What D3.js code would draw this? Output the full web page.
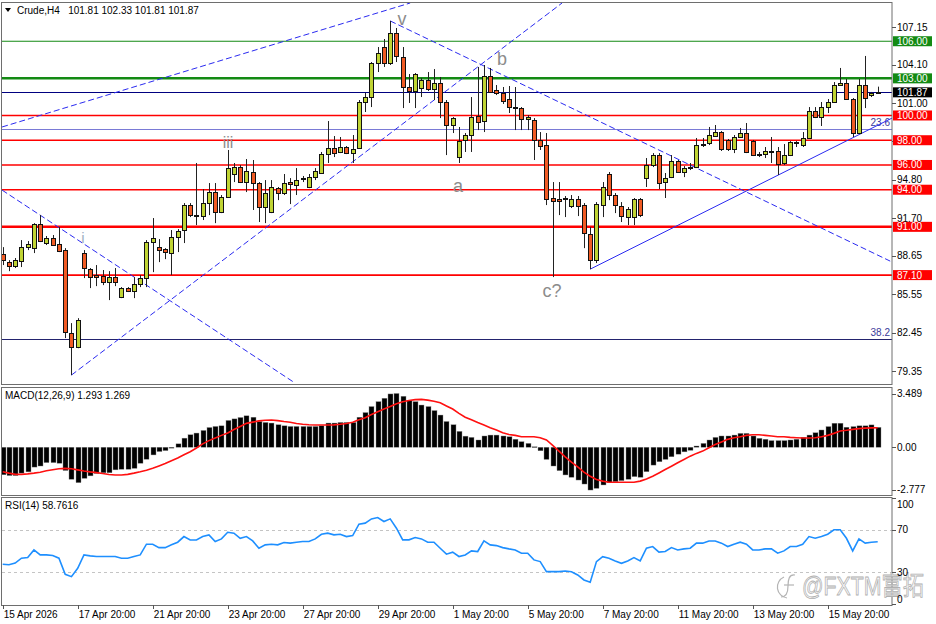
<!DOCTYPE html>
<html lang="en">
<head>
<meta charset="UTF-8" />
<title>Crude,H4</title>
<script src="https://d3js.org/d3.v7.min.js"></script>
<style>
  body { margin: 0; background: #fff; }
  svg { display: block; font-family: "Liberation Sans", Arial, sans-serif; }
  .pre { white-space: pre; }
</style>
</head>
<body>
<svg id="chart" width="936" height="624"></svg>
<script>
// H4 candles (bar 0 = 15 Apr 20:00 ... bar 140 = last)
const opens = [88.80,88.15,87.83,88.23,89.36,89.28,91.22,89.69,90.09,89.61,
  89.12,82.41,81.28,88.88,87.58,87.10,87.02,86.53,86.94,85.32,
  86.05,85.81,86.37,86.86,89.77,89.36,89.20,88.88,90.17,90.74,
  92.76,91.95,91.87,92.92,93.81,92.19,93.41,95.27,95.83,94.62,
  95.43,94.54,92.60,92.19,94.13,93.73,94.62,94.38,94.94,94.22,
  95.02,95.35,96.88,97.37,97.05,97.45,96.96,97.37,101.09,101.49,
  104.24,105.53,104.24,106.66,104.73,102.30,101.98,102.22,102.87,102.14,
  102.62,101.09,99.23,96.64,98.02,98.42,99.96,99.55,103.19,102.06,
  101.82,101.33,100.68,100.60,99.71,99.63,98.02,97.61,93.33,93.25,
  93.25,92.68,93.25,92.76,90.42,88.31,92.76,95.27,93.57,92.68,
  91.79,91.79,93.25,94.94,95.99,96.80,94.62,95.02,96.32,95.43,
  95.75,95.83,97.61,97.77,98.34,98.66,98.02,97.29,98.26,98.58,
  97.93,96.88,96.88,97.13,97.13,96.16,96.80,97.85,97.61,98.18,
  100.36,99.87,100.68,101.09,102.46,102.62,101.33,98.58,102.46,101.65,
  101.81];
const highs = [89.36,88.31,88.48,89.93,89.85,91.30,91.95,90.26,90.34,90.98,
  89.28,83.22,83.62,89.12,87.67,87.91,87.51,87.42,87.67,86.13,
  86.13,86.94,87.10,89.93,91.71,90.01,89.28,90.74,90.82,92.92,
  92.92,96.16,94.05,94.54,94.54,93.57,97.21,96.16,95.99,96.48,
  96.40,94.62,94.78,94.78,94.22,95.27,94.94,95.75,95.11,95.27,
  95.75,97.05,99.55,98.34,98.26,97.53,98.42,101.25,101.82,104.32,
  105.53,106.18,107.64,107.07,105.53,103.35,103.43,103.03,103.51,103.75,
  103.11,101.25,99.87,99.07,98.58,101.49,103.92,104.08,103.84,102.46,
  102.30,102.38,102.30,100.68,100.03,99.79,98.66,98.58,94.62,94.62,
  93.49,93.57,93.49,92.92,90.98,93.00,94.62,95.43,93.73,93.00,
  92.60,93.33,93.33,96.56,96.96,96.96,95.35,96.80,96.40,95.91,
  96.16,98.18,98.18,99.07,99.23,98.74,98.10,98.42,98.99,99.39,
  98.02,97.05,97.45,98.26,97.45,97.69,97.93,97.93,98.66,100.68,
  100.68,101.09,101.33,102.70,103.84,102.95,101.41,102.95,104.81,101.90,
  102.33];
const lows = [87.91,87.42,87.67,87.75,89.12,88.88,89.77,89.53,89.45,88.96,
  82.01,79.02,81.19,86.86,86.05,86.21,86.29,85.08,86.21,85.24,
  85.73,85.24,86.13,86.13,87.34,88.15,88.39,87.10,88.96,89.69,
  91.79,91.14,91.55,91.95,91.30,92.11,93.33,94.62,94.54,93.81,
  92.36,91.39,91.30,92.11,93.16,93.57,92.84,93.57,94.62,94.13,
  94.78,95.27,96.16,96.64,96.96,96.88,96.16,97.29,100.28,100.68,
  103.51,103.92,104.08,104.32,100.60,101.01,100.60,101.49,101.98,101.25,
  99.79,96.80,98.58,96.16,97.05,97.05,98.82,98.66,101.82,101.65,
  100.93,100.20,98.82,98.82,98.82,96.40,97.21,92.76,86.94,91.95,
  91.79,92.52,91.87,89.28,87.58,88.07,91.79,93.16,92.11,91.39,
  91.14,91.14,91.79,94.22,95.83,94.05,93.33,94.94,95.35,95.02,
  95.59,95.75,97.45,97.61,98.26,97.13,97.13,96.96,98.26,96.96,
  96.72,96.64,96.56,96.16,95.19,95.99,96.72,97.45,97.45,98.10,
  99.79,99.15,100.20,101.01,102.46,101.25,98.26,98.50,100.60,101.49,
  101.81];
const closes = [88.31,87.83,88.31,89.36,89.61,91.22,89.85,90.09,89.53,89.04,
  82.49,81.28,83.46,87.67,86.94,86.94,86.53,86.94,86.53,86.05,
  85.81,86.37,86.86,89.77,90.09,89.12,88.96,90.17,90.66,92.76,
  91.95,91.87,92.92,93.81,92.19,93.41,95.75,95.83,94.62,95.51,
  94.54,92.60,93.73,94.22,93.73,94.54,94.46,94.78,94.86,95.02,
  95.51,96.88,97.37,96.96,97.45,96.96,97.29,101.09,101.49,104.24,
  105.05,104.24,106.66,104.81,102.30,101.98,103.35,102.87,102.14,102.62,
  101.09,99.23,99.79,97.93,98.42,99.87,99.47,103.19,101.90,101.82,
  101.17,100.68,100.60,99.71,99.87,98.02,97.53,93.25,93.08,93.08,
  93.33,93.25,92.68,90.50,88.31,92.84,94.22,93.57,92.76,91.87,
  92.44,93.25,91.95,95.99,96.80,94.54,94.94,96.32,95.43,95.75,
  95.83,97.61,97.69,98.42,98.66,97.29,97.29,98.26,98.58,97.05,
  96.80,96.80,97.13,97.05,96.08,96.80,97.85,97.77,98.18,100.36,
  99.87,100.68,101.09,102.46,102.62,101.33,98.58,102.46,101.41,101.82,
  101.87];

// MACD(12,26,9): main value (bars) and signal (red line)
const macdMain = [-1.79,-1.84,-1.84,-1.68,-1.60,-1.29,-1.22,-1.00,-1.00,-1.04,
  -1.51,-2.08,-2.30,-2.02,-1.86,-1.70,-1.66,-1.66,-1.47,-1.43,
  -1.43,-1.37,-1.04,-0.78,-0.50,-0.28,-0.22,-0.06,0.22,0.59,
  0.81,0.92,1.09,1.28,1.35,1.39,1.74,1.84,1.93,2.04,
  1.95,1.67,1.61,1.57,1.46,1.39,1.35,1.35,1.35,1.35,
  1.35,1.39,1.57,1.57,1.61,1.61,1.61,1.95,2.25,2.64,
  2.96,3.18,3.46,3.49,3.31,3.05,2.96,2.74,2.64,2.38,
  2.09,1.67,1.46,1.03,0.72,0.64,0.47,0.73,0.79,0.79,
  0.73,0.68,0.52,0.36,0.25,0.03,-0.23,-0.79,-1.22,-1.52,
  -1.80,-1.95,-2.13,-2.39,-2.78,-2.67,-2.45,-2.30,-2.24,-2.17,
  -2.08,-1.91,-1.95,-1.59,-1.16,-0.94,-0.79,-0.62,-0.45,-0.30,
  -0.20,0.08,0.25,0.47,0.64,0.73,0.73,0.79,0.90,0.90,
  0.73,0.58,0.52,0.43,0.43,0.43,0.47,0.52,0.64,0.79,
  0.94,1.12,1.34,1.56,1.56,1.30,1.34,1.39,1.39,1.45,
  1.293];
const macdSignal = [-1.59,-1.68,-1.76,-1.76,-1.73,-1.68,-1.62,-1.53,-1.46,-1.40,
  -1.37,-1.40,-1.47,-1.54,-1.60,-1.65,-1.71,-1.77,-1.80,-1.80,
  -1.76,-1.68,-1.59,-1.49,-1.37,-1.22,-1.06,-0.88,-0.70,-0.49,
  -0.29,-0.05,0.22,0.43,0.60,0.77,0.93,1.15,1.35,1.55,
  1.63,1.71,1.75,1.77,1.73,1.67,1.62,1.54,1.49,1.46,
  1.44,1.44,1.44,1.45,1.49,1.54,1.62,1.78,1.92,2.12,
  2.30,2.48,2.64,2.82,2.95,3.04,3.09,3.11,3.06,2.98,
  2.89,2.68,2.48,2.20,1.95,1.78,1.60,1.44,1.26,1.12,
  0.94,0.83,0.77,0.68,0.68,0.68,0.62,0.47,0.12,-0.25,
  -0.62,-0.97,-1.27,-1.62,-1.88,-2.10,-2.20,-2.27,-2.27,-2.27,
  -2.27,-2.27,-2.20,-2.06,-1.88,-1.67,-1.45,-1.23,-1.01,-0.80,
  -0.58,-0.40,-0.25,-0.03,0.18,0.34,0.51,0.62,0.68,0.77,
  0.81,0.81,0.77,0.73,0.68,0.68,0.64,0.62,0.60,0.60,
  0.62,0.68,0.77,0.90,1.05,1.10,1.16,1.21,1.24,1.26,
  1.269];

// RSI(14)
const rsi = [37.5,37.0,38.6,43.2,43.8,51.0,46.3,46.3,45.7,43.2,
  28.0,25.8,33.7,46.3,45.4,44.8,44.8,44.8,44.8,43.2,
  43.2,44.8,46.3,56.4,56.4,53.2,53.2,55.8,58.3,63.6,
  60.4,60.4,63.6,65.2,58.9,61.4,67.7,66.8,62.0,63.6,
  59.5,52.6,55.8,56.4,55.8,58.0,57.4,58.3,58.9,58.9,
  61.4,65.8,66.8,65.2,65.8,63.6,64.5,75.3,76.3,80.3,
  81.6,77.8,80.3,71.5,60.5,60.5,62.7,61.4,58.3,58.3,
  52.6,47.0,48.9,44.8,46.3,50.1,49.5,59.5,55.8,55.1,
  53.2,52.0,51.0,47.9,47.9,41.6,40.0,30.5,30.5,30.5,
  31.1,30.5,27.4,22.7,20.5,40.0,44.7,43.2,40.6,38.4,
  40.6,43.8,40.6,52.6,54.2,48.9,49.5,53.2,51.0,52.0,
  52.6,57.4,57.4,59.5,59.5,57.4,54.2,56.4,58.3,56.4,
  51.0,51.0,52.0,52.0,47.9,50.1,54.2,54.2,56.4,63.6,
  62.0,63.6,65.8,70.0,70.0,62.0,50.1,61.4,57.4,58.3,
  58.7616];

// axis labels
const priceTicks = [107.15,104.10,101.00,97.90,94.80,91.70,88.65,85.55,82.45,79.35];
const timeLabels = ["15 Apr 2026","17 Apr 20:00","21 Apr 20:00","23 Apr 20:00","27 Apr 20:00","29 Apr 20:00",
  "1 May 20:00","5 May 20:00","7 May 20:00","11 May 20:00","13 May 20:00","15 May 20:00"];
const timeBars = [0,12,24,36,48,60,72,84,96,108,120,132];
const macdTicks = [3.489, 0, -2.777];
const macdTickText = ["3.489","0.00","-2.777"];
const rsiTicks = [100,70,30,0];
const rsiLevels = [70,30];

// horizontal levels drawn on the chart
const resistLevels = [106.00, 103.00];
const supportLevels = [100.00, 98.00, 96.00, 94.00, 91.00, 87.10];
const fibPrices = [98.90, 81.93];
const fibNames = ["23.6", "38.2"];

// trend lines: start bar/price, end bar/price
const trendFromBar = [-0.1, 11, 62, -0.1, 94];
const trendFromPrice = [99.07, 79.02, 107.64, 93.97, 87.58];
const trendToBar = [65.2, 89.5, 142, 46.8, 142.3];
const trendToPrice = [109.09, 109.09, 88.23, 78.37, 99.79];
const trendDashed = [true, true, true, true, false];

// wave count labels
const waveText = ["i", "iii", "v", "a", "b", "c?"];
const waveBar = [12.85, 36.05, 63.9, 72.85, 79.9, 87.9];
const wavePrice = [89.69, 97.37, 107.31, 93.81, 104.08, 85.32];

// ---------------------------------------------------------------
const svg = d3.select("#chart");
const AX = 892;              // right price axis
const bull = "#c0d434", bear = "#f05b24";
const red = "#ff0000", green = "#138a13";

const x = d3.scaleLinear().domain([0, 140]).range([2.7, 877.7]);
const yP = d3.scaleLinear().domain([79.35, 107.15]).range([371, 27]);
const yM = d3.scaleLinear().domain([-2.777, 3.489]).range([490, 393.5]);
const yR = d3.scaleLinear().domain([0, 100]).range([604, 498]);

const panels = [
  {id: "cMain", y0: 2.5, y1: 384.5},
  {id: "cMacd", y0: 387.5, y1: 495.5},
  {id: "cRsi", y0: 497.5, y1: 605.5}
];
const defs = svg.append("defs");
panels.forEach(p => {
  defs.append("clipPath").attr("id", p.id).append("rect")
    .attr("x", 2).attr("y", p.y0).attr("width", AX - 2).attr("height", p.y1 - p.y0);
});

const gMain = svg.append("g").attr("clip-path", "url(#cMain)");
const gMacd = svg.append("g").attr("clip-path", "url(#cMacd)");
const gRsi = svg.append("g").attr("clip-path", "url(#cRsi)");

const crisp = v => Math.round(v) + 0.5;

// fib lines
gMain.selectAll("line.fib").data(fibPrices).join("line")
  .attr("x1", 2).attr("x2", AX)
  .attr("y1", d => crisp(yP(d))).attr("y2", d => crisp(yP(d)))
  .attr("stroke", (d, i) => i === 0 ? "#7a7ad6" : "#23236e").attr("stroke-width", 1);

gMain.selectAll("text.fib").data(fibPrices).join("text")
  .attr("x", 890).attr("y", d => yP(d) - 3)
  .attr("text-anchor", "end").attr("font-size", 10)
  .attr("fill", "#3a3a9a").text((d, i) => fibNames[i]);

// support / resistance
const levels = resistLevels.map(p => ({p, c: green})).concat(supportLevels.map(p => ({p, c: red})));
const levelW = p => (p === 103 || p === 91) ? 2.5 : (p === 106 ? 1.2 : 1.6);
gMain.selectAll("line.lvl").data(levels).join("line")
  .attr("x1", 2).attr("x2", AX)
  .attr("y1", d => yP(d.p)).attr("y2", d => yP(d.p))
  .attr("stroke", d => d.c).attr("stroke-width", d => levelW(d.p));

// current price line
const last = closes[closes.length - 1];
gMain.append("line")
  .attr("x1", 2).attr("x2", AX)
  .attr("y1", crisp(yP(last))).attr("y2", crisp(yP(last)))
  .attr("stroke", "#000080").attr("stroke-width", 1);

// trend lines
gMain.selectAll("line.trend").data(trendFromBar).join("line")
  .attr("x1", (d, i) => x(trendFromBar[i])).attr("y1", (d, i) => yP(trendFromPrice[i]))
  .attr("x2", (d, i) => x(trendToBar[i])).attr("y2", (d, i) => yP(trendToPrice[i]))
  .attr("stroke", "#2a2af0").attr("stroke-width", 1)
  .attr("stroke-dasharray", (d, i) => trendDashed[i] ? "6,3" : null);

// candles
const bars = d3.range(opens.length);
const cg = gMain.selectAll("g.candle").data(bars).join("g");
cg.append("line")
  .attr("x1", i => Math.round(x(i)) + 0.5).attr("x2", i => Math.round(x(i)) + 0.5)
  .attr("y1", i => yP(highs[i])).attr("y2", i => yP(lows[i]))
  .attr("stroke", "#222").attr("stroke-width", 1);
cg.append("rect")
  .attr("x", i => Math.round(x(i)) - 1.5)
  .attr("width", 4)
  .attr("y", i => crisp(yP(Math.max(opens[i], closes[i]))))
  .attr("height", i => Math.max(1, Math.round(Math.abs(yP(opens[i]) - yP(closes[i])))))
  .attr("fill", i => closes[i] >= opens[i] ? bull : bear)
  .attr("stroke", "#111").attr("stroke-width", 1);

// wave labels
gMain.selectAll("text.wave").data(waveText).join("text")
  .attr("x", (d, i) => x(waveBar[i])).attr("y", (d, i) => yP(wavePrice[i]))
  .attr("text-anchor", "middle")
  .attr("font-size", d => d === "i" ? 15 : (d === "iii" ? 16 : 18))
  .attr("fill", d => d === "i" ? "#9fb0c4" : "#8c8c8c")
  .text(d => d);

// MACD
gMacd.selectAll("rect").data(bars).join("rect")
  .attr("x", i => Math.round(x(i)) - 2)
  .attr("width", 5)
  .attr("y", i => Math.min(yM(0), yM(macdMain[i])))
  .attr("height", i => Math.max(0.8, Math.abs(yM(macdMain[i]) - yM(0))))
  .attr("fill", "#000").attr("stroke", "#8a8a8a").attr("stroke-width", 0.4);
gMacd.append("path").datum(bars)
  .attr("d", d3.line().x(i => x(i)).y(i => yM(macdSignal[i])))
  .attr("fill", "none").attr("stroke", "#ff1010").attr("stroke-width", 1.6);

// RSI
gRsi.selectAll("line.lv").data(rsiLevels).join("line")
  .attr("x1", 2).attr("x2", AX)
  .attr("y1", d => crisp(yR(d))).attr("y2", d => crisp(yR(d)))
  .attr("stroke", "#c4c4c4").attr("stroke-dasharray", "3,3");
gRsi.append("path").datum(bars)
  .attr("d", d3.line().x(i => x(i)).y(i => yR(rsi[i])))
  .attr("fill", "none").attr("stroke", "#1e8fff").attr("stroke-width", 1.6);

// panel frames
svg.selectAll("rect.frame").data(panels).join("rect")
  .attr("x", 1.5).attr("y", d => d.y0).attr("width", AX - 1.5).attr("height", d => d.y1 - d.y0)
  .attr("fill", "none").attr("stroke", "#6e6e6e").attr("stroke-width", 1);

// watermark (sits under the axis labels, as in the original)
const wm = svg.append("g").attr("fill", "none").attr("stroke", "#b4b4b4").attr("stroke-width", 1.2);
wm.append("path").attr("d", "M795,575 C789,574 788,580 788,586 C788,592 786,597 781,597");
wm.append("path").attr("d", "M784,585 L794,585");
wm.append("path").attr("d", "M784,577 A11,11 0 0,0 787,598");
svg.append("text").attr("x", 802).attr("y", 595)
  .attr("font-family", "'Liberation Sans','Noto Sans CJK SC',sans-serif")
  .attr("font-size", 26).attr("textLength", 122).attr("lengthAdjust", "spacingAndGlyphs")
  .attr("fill", "#f2f2f2").attr("fill-opacity", 0.6).attr("stroke", "#b0b0b0").attr("stroke-width", 0.8)
  .text("@FXTM富拓");

// price axis
const axG = svg.append("g").attr("font-size", 10).attr("fill", "#000");
axG.selectAll("line.pt").data(priceTicks).join("line")
  .attr("x1", AX).attr("x2", AX + 4)
  .attr("y1", d => crisp(yP(d))).attr("y2", d => crisp(yP(d))).attr("stroke", "#555");
axG.selectAll("text.pt").data(priceTicks).join("text")
  .attr("x", AX + 5).attr("y", d => yP(d)).attr("dy", "0.35em")
  .text(d => d.toFixed(2));

// level tags
const tags = levels.concat([{p: last, c: "#000"}]);
const tg = axG.selectAll("g.tag").data(tags).join("g");
tg.append("rect")
  .attr("x", AX + 1).attr("y", d => yP(d.p) - 5).attr("width", 39).attr("height", 10)
  .attr("fill", d => d.c);
tg.append("text")
  .attr("x", AX + 5).attr("y", d => yP(d.p)).attr("dy", "0.35em")
  .attr("fill", "#fff").text(d => d.p.toFixed(2));

// MACD axis
axG.selectAll("line.mt").data(macdTicks).join("line")
  .attr("x1", AX).attr("x2", AX + 4)
  .attr("y1", d => crisp(yM(d))).attr("y2", d => crisp(yM(d))).attr("stroke", "#555");
axG.selectAll("text.mt").data(macdTicks).join("text")
  .attr("x", AX + 5).attr("y", d => Math.min(yM(d), 489)).attr("dy", "0.35em")
  .text((d, i) => macdTickText[i]);

// RSI axis
axG.selectAll("line.rt").data(rsiTicks).join("line")
  .attr("x1", AX).attr("x2", AX + 4)
  .attr("y1", d => crisp(yR(d))).attr("y2", d => crisp(yR(d))).attr("stroke", "#555");
axG.selectAll("text.rt").data(rsiTicks).join("text")
  .attr("x", AX + 5).attr("y", d => Math.max(504, Math.min(599, yR(d)))).attr("dy", "0.35em")
  .text(d => d);

// time axis
axG.selectAll("line.tt").data(timeBars).join("line")
  .attr("x1", d => crisp(x(d))).attr("x2", d => crisp(x(d)))
  .attr("y1", 605).attr("y2", 609).attr("stroke", "#555");
axG.selectAll("text.tt").data(timeBars).join("text")
  .attr("x", d => x(d) + 1).attr("y", 618)
  .text((d, i) => timeLabels[i]);

// titles
const n = closes.length - 1;
svg.append("path").attr("d", "M5,8 L11,8 L8,12 Z").attr("fill", "#000");
svg.append("text").attr("class", "pre").attr("x", 17).attr("y", 14).attr("font-size", 10)
  .text(`Crude,H4   ${opens[n].toFixed(2)} ${highs[n].toFixed(2)} ${lows[n].toFixed(2)} ${closes[n].toFixed(2)}`);
svg.append("text").attr("x", 5).attr("y", 399).attr("font-size", 10)
  .text(`MACD(12,26,9) ${macdMain[n].toFixed(3)} ${macdSignal[n].toFixed(3)}`);
svg.append("text").attr("x", 5).attr("y", 509).attr("font-size", 10)
  .text(`RSI(14) ${rsi[n].toFixed(4)}`);
</script>
</body>
</html>
